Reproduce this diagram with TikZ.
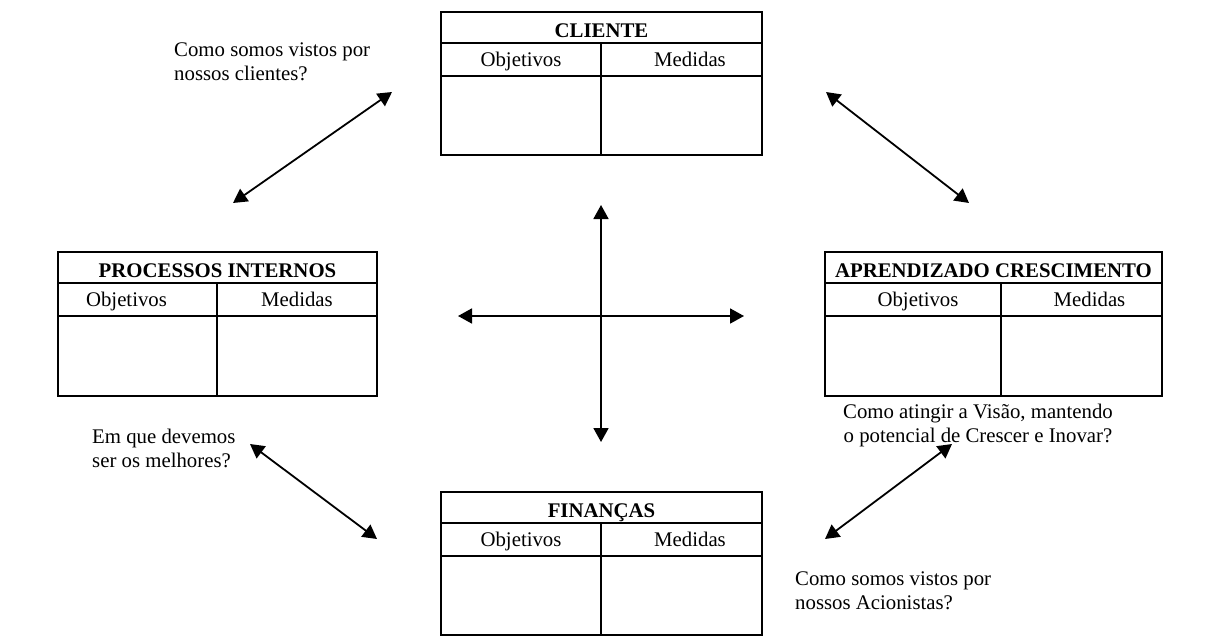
\documentclass[tikz,border=0pt]{standalone}
\usepackage{fontspec}
\setmainfont{Liberation Serif}
\usetikzlibrary{arrows.meta, positioning}

\begin{document}
\begin{tikzpicture}[
x=1pt, y=-1pt,
font=\fontsize{20.8}{24}\selectfont,
cell/.style={draw,
rectangle,
line width=1.8pt,
inner sep=0pt,
outer sep=0pt,
align=center},
titulo/.style={cell, font=\fontsize{20.8}{24}\selectfont\bfseries, minimum height=31pt, text height=21.6pt, text depth=2pt},
coluna/.style={cell, minimum height=33pt, text height=17.6pt, text depth=4pt},
corpo/.style={cell, minimum height=80pt},
recuo/.style={execute at begin node={\hspace*{#1}}},
nota/.style={inner sep=0pt, align=left, anchor=base west},
seta/.style={{Triangle[length=14pt, width=15pt]}-{Triangle[length=14pt, width=15pt]}, line width=1.8pt}
]
\useasboundingbox (0,0) rectangle (1209,637);

% cliente
\node[titulo, minimum width=321pt, anchor=north west] (cliT) at (441,12) {CLIENTE};
\node[coluna, minimum width=160pt, below right=0pt and 0pt of cliT.south west] (cliO) {Objetivos};
\node[coluna, minimum width=161pt, recuo=17pt, right=0pt of cliO] (cliM) {Medidas};
\node[corpo, minimum width=160pt, minimum height=79pt, below=0pt of cliO] (cliOc) {};
\node[corpo, minimum width=161pt, minimum height=79pt, below=0pt of cliM] (cliMc) {};

% processos internos
\node[titulo, minimum width=319pt, anchor=north west] (proT) at (58,252) {PROCESSOS INTERNOS};
\node[coluna, minimum width=159pt, recuo=-22pt, below right=0pt and 0pt of proT.south west] (proO) {Objetivos};
\node[coluna, minimum width=160pt, right=0pt of proO] (proM) {Medidas};
\node[corpo, minimum width=159pt, below=0pt of proO] (proOc) {};
\node[corpo, minimum width=160pt, below=0pt of proM] (proMc) {};

% aprendizado
\node[titulo, minimum width=337pt, anchor=north west] (aprT) at (825,252) {APRENDIZADO CRESCIMENTO};
\node[coluna, minimum width=176pt, recuo=10pt, below right=0pt and 0pt of aprT.south west] (aprO) {Objetivos};
\node[coluna, minimum width=161pt, recuo=16pt, right=0pt of aprO] (aprM) {Medidas};
\node[corpo, minimum width=176pt, below=0pt of aprO] (aprOc) {};
\node[corpo, minimum width=161pt, below=0pt of aprM] (aprMc) {};

% financas
\node[titulo, minimum width=321pt, anchor=north west] (finT) at (441,492) {FINANÇAS};
\node[coluna, minimum width=160pt, below right=0pt and 0pt of finT.south west] (finO) {Objetivos};
\node[coluna, minimum width=161pt, recuo=17pt, right=0pt of finO] (finM) {Medidas};
\node[corpo, minimum width=160pt, minimum height=79pt, below=0pt of finO] (finOc) {};
\node[corpo, minimum width=161pt, minimum height=79pt, below=0pt of finM] (finMc) {};

% perguntas
\node[nota] (qCli) at (174,80) {Como somos vistos por\\nossos clientes?};
\node[nota] (qPro) at (92,467) {Em que devemos\\ser os melhores?};
\node[nota, align=center, anchor=base] (qApr) at (978,442) {Como atingir a Visão, mantendo\\o potencial de Crescer e Inovar?};
\node[nota] (qFin) at (795,609) {Como somos vistos por\\nossos Acionistas?};

% setas
\coordinate (cliA) at (392,92);
\coordinate (proA) at (233,203);
\coordinate (cliB) at (826,92);
\coordinate (aprA) at (969,203);
\coordinate (proB) at (250,444);
\coordinate (finA) at (377,539);
\coordinate (aprB) at (952,444);
\coordinate (finB) at (825,539);
\coordinate (eixoN) at (601,205);
\coordinate (eixoS) at (601,442);
\coordinate (eixoW) at (458,316);
\coordinate (eixoE) at (744,316);

\draw[seta] (proA) -- (cliA);
\draw[seta] (cliB) -- (aprA);
\draw[seta] (proB) -- (finA);
\draw[seta] (aprB) -- (finB);
\draw[seta] (eixoN) -- (eixoS);
\draw[seta] (eixoW) -- (eixoE);

\end{tikzpicture}
\end{document}
